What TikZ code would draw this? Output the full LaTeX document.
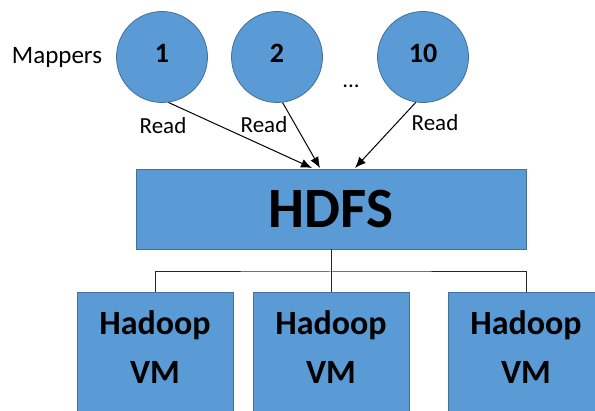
\documentclass[tikz,border=0pt]{standalone}
\usepackage{fontspec}
\setmainfont{Carlito}
\usetikzlibrary{arrows.meta}
\definecolor{boxblue}{HTML}{5B9BD5}
\definecolor{boxline}{HTML}{41719C}

\begin{document}
\begin{tikzpicture}[x=1pt, y=1pt, >={Latex[length=11pt,width=9pt]}, line width=1pt,
    mapper/.style={draw=boxline, fill=boxblue, circle, minimum size=91pt, inner sep=0pt, line width=0.8pt,
      font=\fontsize{28}{34}\selectfont\bfseries, text depth=8pt},
    store/.style={draw=boxline, fill=boxblue, rectangle, minimum width=390pt, minimum height=80pt, line width=0.8pt,
      font=\fontsize{57}{68}\selectfont\bfseries},
    vmbox/.style={draw=boxline, fill=boxblue, rectangle, minimum width=156pt, minimum height=140pt, line width=0.8pt,
      align=center, font=\fontsize{34}{49}\selectfont\bfseries, text depth=30pt},
    lbl/.style={font=\fontsize{23}{27}\selectfont, inner sep=0pt}]

      % white space around the picture
      \path[use as bounding box, clip] (0, 0) rectangle (595, -411);

      % mappers
      \node [lbl, name=mappers] at (57, -57) {\fontsize{25}{30}\selectfont Mappers};
      \node [mapper, name=m1] at (162, -57) {1};
      \node [mapper, name=m2] at (277, -57) {2};
      \node [mapper, name=m10] at (423, -57) {10};
      \node [lbl, name=dots] at (351, -86) {...};

      % storage
      \node [store, name=hdfs] at (331, -209) {HDFS};

      % virtual machines
      \node [vmbox, name=vm1] at (155, -362) {Hadoop\\VM};
      \node [vmbox, name=vm2] at (331, -362) {Hadoop\\VM};
      \node [vmbox, name=vm3] at (526, -362) {Hadoop\\VM};

      % read connections
      \coordinate (in1) at (312, -168);
      \coordinate (in2) at (320, -168);
      \coordinate (in10) at (355, -168);
      \draw [->] (m1.-82) -- (in1);
      \draw [->] (m2.-83) -- (in2);
      \draw [->] (m10.-99) -- (in10);
      \node [lbl, name=r1] at (163, -126) {Read};
      \node [lbl, name=r2] at (264, -125) {Read};
      \node [lbl, name=r10] at (435, -123) {Read};

      % tree to the VMs
      \coordinate (bus) at (331, -272);
      \draw [black!85] (hdfs.south) -- (vm2.north);
      \draw [black!85] (vm1.north) |- (bus) -| (vm3.north);

    \end{tikzpicture}
\end{document}
